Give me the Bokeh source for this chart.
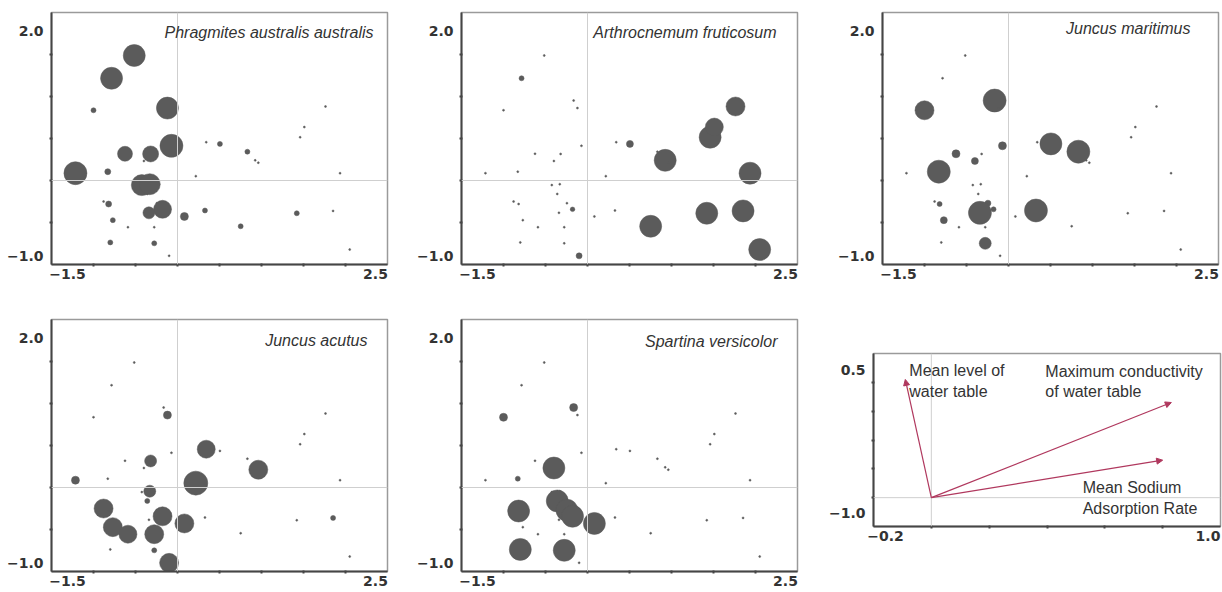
from bokeh.plotting import figure
from bokeh.models import (ColumnDataSource, FixedTicker, CustomJSTickFormatter,
                          Span, Label, Arrow, NormalHead, Spacer)
from bokeh.layouts import row, column
from bokeh.embed import file_html
from bokeh.resources import INLINE

# ---------------- data ----------------
# sample-site scores on the two ordination axes (same sites in every species panel)
site_x = [-0.515, -0.785, -1.0, -0.165, -0.12, -0.072, -0.625, -0.32, -0.40, -1.215,
          -0.83, -0.425, -0.33, -0.36, -0.88, -0.82, -0.245, -0.178, -0.34, -0.77,
          -0.59, -0.277, -0.80, -0.277, -0.10, 0.082, 0.218, 0.342, 0.505, 0.327,
          0.832, 0.925, 0.962, 1.46, 1.51, 1.762, 1.935, 0.752, 1.42, 1.852, 2.05]
site_y = [1.488, 1.217, 0.836, 0.952, 0.862, 0.413, 0.318, 0.316, 0.232, 0.087,
          0.105, -0.055, -0.044, -0.16, -0.25, -0.28, -0.27, -0.343, -0.385, -0.472,
          -0.556, -0.556, -0.737, -0.748, -0.897, -0.428, 0.052, 0.456, 0.436, -0.357,
          0.343, 0.24, 0.212, 0.515, 0.636, 0.881, 0.087, -0.545, -0.39, -0.362, -0.822]

# species abundance per site (0 = absent)
phragmites = [10, 10, 1.5, 0, 10, 10.5, 6.5, 7, 0, 10.5, 2, 9.5, 9.5, 0, 0, 2, 0, 8, 5, 1.5,
              0, 0, 1.5, 1.5, 0, 3, 0, 0, 1.5, 1.5, 1.5, 0, 0, 0, 0, 0, 0, 1.5, 1.5, 0, 0]
arthrocnemum = [0, 1.5, 0, 0, 0, 0, 0, 0, 0, 0, 0, 0, 0, 0, 0, 0, 0, 1.3, 0, 0,
                0, 0, 0, 0, 2, 0, 0, 0, 2.5, 0, 0, 10, 0, 10, 8, 8.5, 10, 10, 10, 10, 10]
juncus_maritimus = [0, 0, 8.5, 10.5, 0, 3, 3, 0, 2.5, 0, 10.5, 0, 0, 0, 0, 1.5, 2, 1.5, 10.5, 2.5,
                    0, 0, 0, 5, 0, 0, 0, 0, 10, 10.5, 10.5, 0, 0, 0, 0, 0, 0, 0, 0, 0, 0]
juncus_acutus = [0, 0, 0, 0, 3, 0, 0, 5, 0, 3, 0, 0, 5, 1.5, 8.5, 0, 0, 8.5, 0, 8.5,
                 8, 8.5, 0, 1.5, 8.5, 8.5, 11, 8, 0, 0, 0, 0, 8.5, 0, 0, 0, 0, 0, 0, 1.5, 0]
spartina = [0, 0, 3, 3, 0, 0, 0, 0, 10, 0, 1.5, 0, 0, 10, 0, 10, 10, 10, 0, 0,
            0, 0, 10, 10, 0, 10, 0, 0, 0, 0, 0, 0, 0, 0, 0, 0, 0, 0, 0, 0, 0]

species_names = ["Phragmites australis australis", "Arthrocnemum fruticosum",
                 "Juncus maritimus", "Juncus acutus", "Spartina versicolor"]
species_values = [phragmites, arthrocnemum, juncus_maritimus, juncus_acutus, spartina]

x_tick_labels = ["\u22121.5", "2.5"]
y_tick_labels = ["\u22121.0", "2.0"]

# environmental variables (biplot arrows)
env_names = ["Mean level of\nwater table", "Maximum conductivity\nof water table",
             "Mean Sodium\nAdsorption Rate"]
env_x = [-0.09, 0.83, 0.80]
env_y = [0.41, 0.33, 0.13]
bi_x_tick_labels = ["\u22120.2", "1.0"]
bi_y_tick_labels = ["\u22121.0", "0.5"]

# ---------------- style / layout ----------------
BUBBLE = "#5b5b5b"
AXIS = "#454545"
TEXT = "#333333"
ARROW = "#b0385e"
SCALE = 84.0  # px per unit in species panels


def bubble_size(a):
    return 2 + 2 * a


def style_axes(p, xr, yr, x_minor, y_minor, x_lab, y_lab, x_lab_off, y_lab_off, scale):
    xt = [xr[0] + x_lab_off[0] / scale, xr[1] - x_lab_off[1] / scale]
    yt = [yr[0] + y_lab_off[0] / scale, yr[1] - y_lab_off[1] / scale]
    p.xaxis.ticker = FixedTicker(ticks=xt, minor_ticks=x_minor)
    p.yaxis.ticker = FixedTicker(ticks=yt, minor_ticks=y_minor)
    p.xaxis.formatter = CustomJSTickFormatter(args=dict(labels=x_lab), code="return labels[index];")
    p.yaxis.formatter = CustomJSTickFormatter(args=dict(labels=y_lab), code="return labels[index];")
    for ax in (p.xaxis[0], p.yaxis[0]):
        ax.axis_line_color = AXIS
        ax.axis_line_width = 2
        ax.major_tick_out = 0
        ax.major_tick_in = 0
        ax.minor_tick_out = 2
        ax.minor_tick_in = 1
        ax.minor_tick_line_color = AXIS
        ax.minor_tick_line_width = 2
        ax.major_label_text_font = "DejaVu Sans"
        ax.major_label_text_font_style = "bold"
        ax.major_label_text_font_size = "14px"
        ax.major_label_text_color = TEXT
    p.xaxis.major_label_standoff = 2
    p.yaxis.major_label_standoff = 6
    p.grid.visible = False
    p.outline_line_color = "#9a9a9a"
    p.outline_line_width = 1.5


# (left, right, top, bottom) borders, title offset (px), horizontal zero line
panel_layout = [
    dict(border=(51, 24, 12, 25), title_off=(-14, -20), hline=True),
    dict(border=(50, 35, 12, 25), title_off=(-21, -20), hline=True),
    dict(border=(50, 4, 12, 25), title_off=(-28, -16), hline=False),
    dict(border=(51, 24, 30, 20), title_off=(-20, -21), hline=True),
    dict(border=(50, 26, 30, 20), title_off=(-20, -22), hline=True),
]


def species_panel(name, values, lay):
    xr, yr = (-1.5, 2.5), (-1.0, 2.0)
    l, r, t, b = lay["border"]
    p = figure(frame_width=336, frame_height=252, x_range=xr, y_range=yr,
               output_backend="svg", toolbar_location=None, title=None,
               min_border_left=l, min_border_right=r, min_border_top=t, min_border_bottom=b)
    style_axes(p, xr, yr, [-1.0, -0.5, 0.0, 0.5, 1.0, 1.5, 2.0], [-0.5, 0.0, 0.5, 1.0, 1.5],
               x_tick_labels, y_tick_labels, (16, 12), (9, 18), SCALE)
    p.add_layout(Span(location=0, dimension="height", line_color="#cfcfcf", line_width=1))
    if lay["hline"]:
        p.add_layout(Span(location=0, dimension="width", line_color="#cfcfcf", line_width=1))
    src = ColumnDataSource(dict(x=site_x, y=site_y, size=[bubble_size(a) for a in values]))
    p.scatter("x", "y", size="size", source=src, fill_color=BUBBLE, line_color=BUBBLE,
              line_width=0.5)
    p.add_layout(Label(x=xr[1], y=yr[1], x_offset=lay["title_off"][0], y_offset=lay["title_off"][1],
                       text=name, text_align="right", text_baseline="middle",
                       text_font="Liberation Sans", text_font_style="italic",
                       text_font_size="16px", text_color=TEXT))
    return p


panels = [species_panel(n, v, lay) for n, v, lay in zip(species_names, species_values, panel_layout)]

# ---------------- biplot ----------------
bxr, byr = (-0.2, 1.0), (-0.1, 0.5)
p6 = figure(frame_width=347, frame_height=173, x_range=bxr, y_range=byr,
            output_backend="svg", toolbar_location=None, title=None,
            min_border_left=50, min_border_right=2, min_border_top=30, min_border_bottom=20)
style_axes(p6, bxr, byr, [0.0, 0.2, 0.4, 0.6, 0.8], [0.0, 0.1, 0.2, 0.3, 0.4],
           bi_x_tick_labels, bi_y_tick_labels, (12, 12.5), (13.4, 16.5), 289.0)
p6.add_layout(Span(location=0, dimension="height", line_color="#cfcfcf", line_width=1))
p6.add_layout(Span(location=0, dimension="width", line_color="#cfcfcf", line_width=1))
env_src = ColumnDataSource(dict(x=env_x, y=env_y))
p6.add_layout(Arrow(end=NormalHead(size=6, fill_color=ARROW, line_color=ARROW, line_width=1),
                    x_start=0, y_start=0, x_end="x", y_end="y", source=env_src,
                    line_color=ARROW, line_width=1.2))
env_label_off = [(4, 17), (-126, 40), (-80, -19)]
for nm, ex, ey, off in zip(env_names, env_x, env_y, env_label_off):
    p6.add_layout(Label(x=ex, y=ey, x_offset=off[0], y_offset=off[1], text=nm,
                        text_align="left", text_baseline="top",
                        text_font="Liberation Sans", text_font_size="16px",
                        text_color=TEXT, text_line_height=1.2))

biplot_block = column(Spacer(width=10, height=34), p6)
layout = column(row(panels[0], panels[1], panels[2]), row(panels[3], panels[4], biplot_block))
open("out.html", "w").write(file_html(layout, INLINE))
